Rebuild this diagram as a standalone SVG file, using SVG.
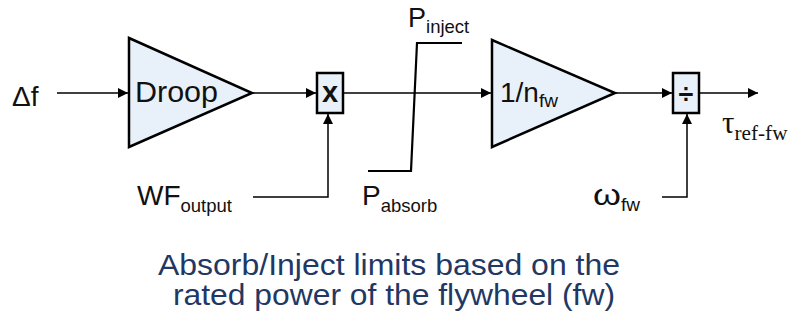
<svg xmlns="http://www.w3.org/2000/svg" width="795" height="322" viewBox="0 0 795 322">
<defs>
<marker id="arr" viewBox="0 0 10 10" refX="10" refY="5" markerWidth="10" markerHeight="10" markerUnits="userSpaceOnUse" orient="auto">
<path d="M0,0 L10,5 L0,10 z" fill="#000"/>
</marker>
<style>
.blk{fill:#E8F0FA;stroke:#000;stroke-width:2.5}
.ln{fill:none;stroke:#000;stroke-width:1.5}
.t{font-family:"Liberation Sans",Arial,sans-serif;fill:#111}
.s{font-family:"Liberation Serif","Times New Roman",serif;fill:#111}
.cap{font-family:"Liberation Sans",Arial,sans-serif;fill:#1F3864;font-size:29px}
</style>
</defs>
<rect width="795" height="322" fill="#fff"/>
<g id="connectors">
<line class="ln" x1="57" y1="93" x2="128" y2="93" marker-end="url(#arr)"/>
<line class="ln" x1="253" y1="93" x2="316" y2="93" marker-end="url(#arr)"/>
<polyline class="ln" points="253,197 328,197 328,114" marker-end="url(#arr)"/>
<line class="ln" x1="344" y1="93" x2="491" y2="93" marker-end="url(#arr)"/>
<line class="ln" x1="616" y1="93" x2="672" y2="93" marker-end="url(#arr)"/>
<line class="ln" x1="700" y1="93" x2="758" y2="93" marker-end="url(#arr)"/>
<polyline class="ln" points="662,197 687,197 687,114" marker-end="url(#arr)"/>
</g>
<g id="input-df"><text class="t" x="12" y="106" font-size="28">Δf</text></g>
<g id="droop">
<polygon class="blk" points="129,38 252,93 129,147"/>
<text class="t" x="135" y="102" font-size="30" textLength="83" lengthAdjust="spacingAndGlyphs">Droop</text>
</g>
<g id="multiply">
<rect class="blk" x="317" y="73" width="26" height="40"/>
<text class="t" x="330" y="102" font-size="29" font-weight="bold" text-anchor="middle">x</text>
</g>
<g id="wf-output">
<text class="t" x="137" y="205" font-size="28">WF<tspan font-size="18.5" dy="7">output</tspan></text>
</g>
<g id="limiter">
<polyline points="368,171 411,171 417,43 462,43" fill="none" stroke="#000" stroke-width="2.2"/>
<text class="t" x="408" y="27" font-size="27">P<tspan font-size="18.5" dy="6">inject</tspan></text>
<text class="t" x="362" y="205" font-size="28">P<tspan font-size="18.5" dy="7">absorb</tspan></text>
</g>
<g id="gain-nfw">
<polygon class="blk" points="492,40 615,93 492,147"/>
<text class="t" x="500" y="102" font-size="28">1/n<tspan font-size="19" dy="5">fw</tspan></text>
</g>
<g id="divide">
<rect class="blk" x="673" y="73" width="26" height="40"/>
<text class="t" x="686" y="103" font-size="27" font-weight="bold" text-anchor="middle">÷</text>
</g>
<g id="omega-fw">
<text class="t" x="593" y="205" font-size="30"><tspan textLength="28" lengthAdjust="spacingAndGlyphs">ω</tspan><tspan font-size="19" dy="6">fw</tspan></text>
</g>
<g id="tau-out">
<text class="s" x="722" y="133" font-size="31">τ<tspan font-size="21" dy="7" textLength="53" lengthAdjust="spacingAndGlyphs">ref-fw</tspan></text>
</g>
<g id="caption">
<text class="cap" x="389" y="275" text-anchor="middle" textLength="462" lengthAdjust="spacingAndGlyphs">Absorb/Inject limits based on the</text>
<text class="cap" x="394" y="305" text-anchor="middle" textLength="442" lengthAdjust="spacingAndGlyphs">rated power of the flywheel (fw)</text>
</g>
</svg>
